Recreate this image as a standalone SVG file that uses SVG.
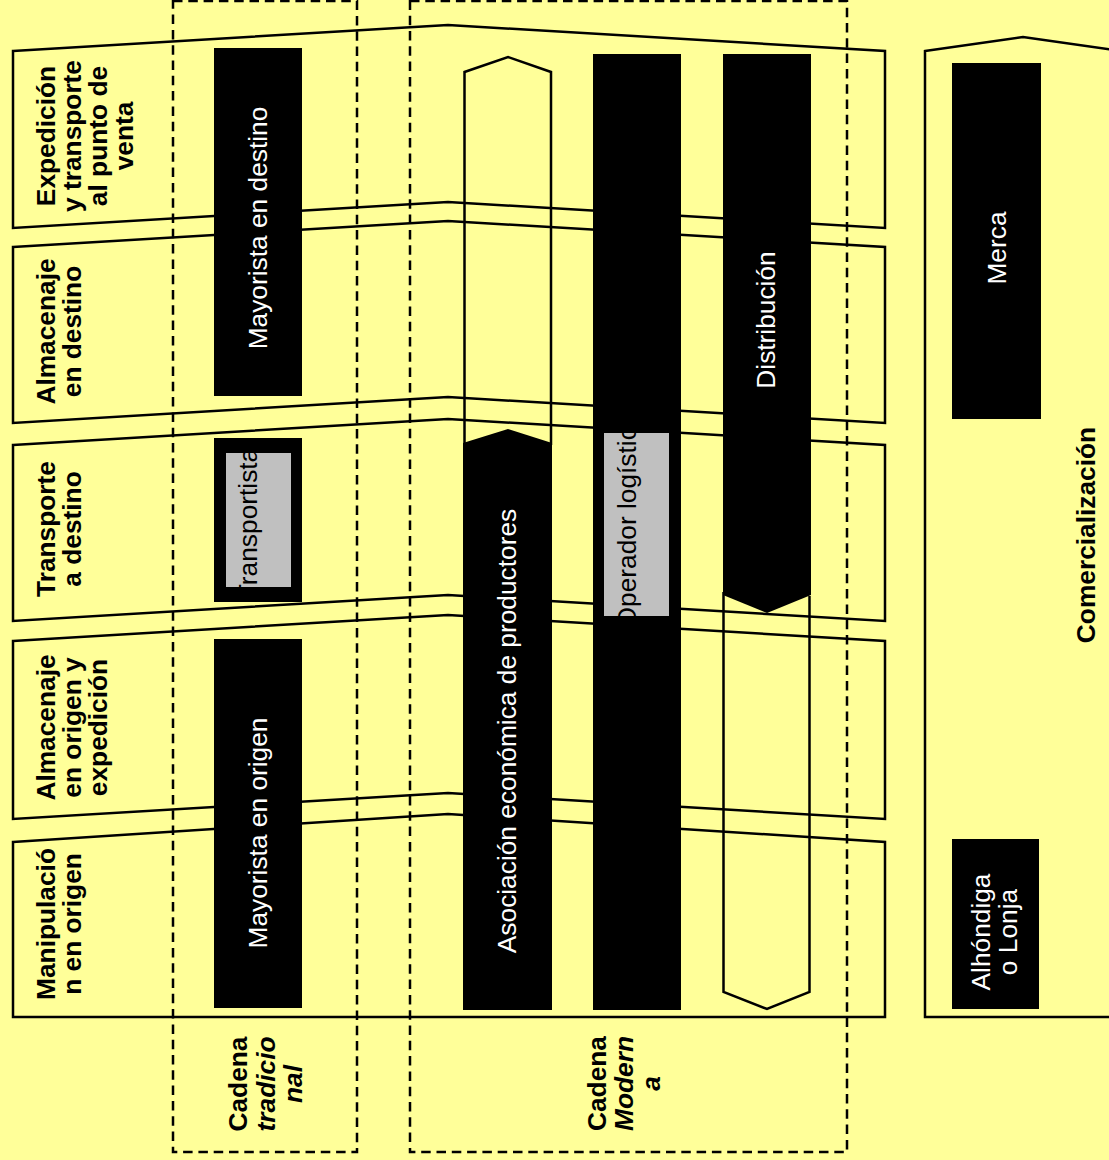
<svg xmlns="http://www.w3.org/2000/svg" width="1109" height="1160" viewBox="0 0 1109 1160">
<style>
.row{fill:none;stroke:#000;stroke-width:2.5;stroke-linejoin:miter}
.dash{fill:none;stroke:#000;stroke-width:2.5;stroke-dasharray:9.5,5.8}
.outl{fill:none;stroke:#000;stroke-width:2.5}
.blk{fill:#000}
.grey{fill:#C0C0C0}
.lbl{font-family:"Liberation Sans",Arial,sans-serif;font-size:26.3px;font-weight:bold;fill:#000;text-anchor:middle}
.it{font-style:italic}
.wt{font-family:"Liberation Sans",Arial,sans-serif;font-size:26.3px;fill:#fff;text-anchor:middle}
.bt{font-family:"Liberation Sans",Arial,sans-serif;font-size:26.3px;fill:#000;text-anchor:middle}
</style>
<rect x="0" y="0" width="1109" height="1160" fill="#FFFF99"/>

<g id="row1">
<polygon class="row" points="13,51 448,25 885,51 885,228 448,202 13,228"/>
<text class="lbl" transform="translate(55,136) rotate(-90)"><tspan x="0" y="0">Expedición</tspan><tspan x="0" y="26">y transporte</tspan><tspan x="0" y="52">al punto de</tspan><tspan x="0" y="78">venta</tspan></text>
</g>
<g id="row2">
<polygon class="row" points="13,247 448,221 885,247 885,423 448,397 13,423"/>
<text class="lbl" transform="translate(55,331.5) rotate(-90)"><tspan x="0" y="0">Almacenaje</tspan><tspan x="0" y="26">en destino</tspan></text>
</g>
<g id="row3">
<polygon class="row" points="13,445 448,419 885,445 885,621 448,595 13,621"/>
<text class="lbl" transform="translate(55,529) rotate(-90)"><tspan x="0" y="0">Transporte</tspan><tspan x="0" y="26">a destino</tspan></text>
</g>
<g id="row4">
<polygon class="row" points="13,641 448,615 885,641 885,819 448,793 13,819"/>
<text class="lbl" transform="translate(55,727.5) rotate(-90)"><tspan x="0" y="0">Almacenaje</tspan><tspan x="0" y="26">en origen y</tspan><tspan x="0" y="52">expedición</tspan></text>
</g>
<g id="row5">
<polygon class="row" points="13,842 448,814 885,842 885,1017 13,1017"/>
<text class="lbl" transform="translate(55,924) rotate(-90)"><tspan x="0" y="0">Manipulació</tspan><tspan x="0" y="26">n en origen</tspan></text>
</g>

<g id="comercializacion">
<polygon class="row" points="925,51 1023,37 1121,51 1121,1017 925,1017"/>
<text class="lbl" transform="translate(1095,535) rotate(-90)">Comercialización</text>
</g>

<g id="cadena-tradicional">
<rect class="dash" x="173" y="1" width="184" height="1151"/>
<text class="lbl" transform="translate(247,1084) rotate(-90)"><tspan x="0" y="0">Cadena</tspan><tspan class="it" x="0" y="28">tradicio</tspan><tspan class="it" x="0" y="55">nal</tspan></text>
</g>
<g id="cadena-moderna">
<rect class="dash" x="410" y="1" width="437" height="1151"/>
<text class="lbl" transform="translate(606,1083.5) rotate(-90)"><tspan x="0" y="0">Cadena</tspan><tspan class="it" x="0" y="27">Modern</tspan><tspan class="it" x="0" y="54">a</tspan></text>
</g>

<g id="mayorista-destino">
<rect class="blk" x="214" y="48" width="88" height="348"/>
<text class="wt" transform="translate(267,228) rotate(-90)">Mayorista en destino</text>
</g>
<g id="transportista">
<rect class="blk" x="214" y="438" width="88" height="164"/>
<rect class="grey" x="226" y="453" width="65" height="134"/>
<text class="bt" transform="translate(257,524) rotate(-90)">Transportista</text>
</g>
<g id="mayorista-origen">
<rect class="blk" x="214" y="639" width="88" height="369"/>
<text class="wt" transform="translate(267,833) rotate(-90)">Mayorista en origen</text>
</g>

<g id="asociacion">
<polyline class="outl" points="464.5,445 464.5,72 508,57 551,72 551,445"/>
<polygon class="blk" points="463,443 508,429 552,443 552,1010 463,1010"/>
<text class="wt" transform="translate(516,731) rotate(-90)">Asociación económica de productores</text>
</g>

<g id="operador-logistico">
<rect class="blk" x="593" y="54" width="88" height="956"/>
<rect class="grey" x="604" y="433" width="65" height="183"/>
<text class="bt" transform="translate(636,520) rotate(-90)">Operador logístico</text>
</g>

<g id="distribucion">
<polyline class="outl" points="723.5,592 723.5,992 767,1009 809.5,992 809.5,596"/>
<polygon class="blk" points="723,54 811,54 811,595 767,613 723,595"/>
<text class="wt" transform="translate(775,320) rotate(-90)">Distribución</text>
</g>

<g id="merca">
<rect class="blk" x="952" y="63" width="89" height="356"/>
<text class="wt" transform="translate(1006,248) rotate(-90)">Merca</text>
</g>
<g id="alhondiga">
<rect class="blk" x="952" y="839" width="87" height="170"/>
<text class="wt" transform="translate(990,932) rotate(-90)"><tspan x="0" y="0">Alhóndiga</tspan><tspan x="0" y="27">o Lonja</tspan></text>
</g>

<g id="connectors"></g>
</svg>
